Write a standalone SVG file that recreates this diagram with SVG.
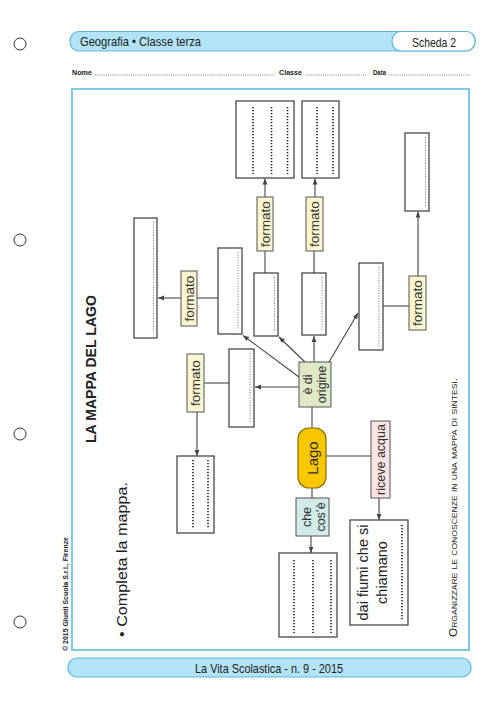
<svg xmlns="http://www.w3.org/2000/svg" width="500" height="708" viewBox="0 0 500 708">
<style>
.t{font-family:"Liberation Sans",Arial,sans-serif;fill:#222}
.box{fill:#fff;stroke:#3a3a3a;stroke-width:1.2}
.fmt{fill:#fbf6d0;stroke:#555;stroke-width:1}
.conn{stroke:#454545;stroke-width:1.1;fill:none}
.arr{stroke:#454545;stroke-width:1.1;fill:none;marker-end:url(#ah)}
.dB{stroke:#1a1a1a;stroke-width:1.6;stroke-dasharray:1.2 1.8;fill:none}
.dL{stroke:#777;stroke-width:1;stroke-dasharray:1 1.6;fill:none}
.lb{font-family:"Liberation Sans",Arial,sans-serif;fill:#333;text-anchor:middle}
.hole{fill:#fff;stroke:#333;stroke-width:1}
.band{fill:#b3e3f7;stroke:#5cb7db;stroke-width:1.2}
</style>
<defs>
<marker id="ah" viewBox="0 0 10 10" refX="10" refY="5" markerWidth="6" markerHeight="6" markerUnits="userSpaceOnUse" orient="auto">
<path d="M0,1 L10,5 L0,9 z" fill="#454545"/>
</marker>
</defs>
<rect width="500" height="708" fill="#fff"/>

<!-- page furniture -->
<g id="holes">
<circle class="hole" cx="20" cy="44" r="6"/>
<circle class="hole" cx="20" cy="240" r="6"/>
<circle class="hole" cx="20" cy="434" r="6"/>
<circle class="hole" cx="20" cy="622" r="6"/>
</g>
<g id="header">
<rect class="band" x="70" y="31.5" width="405" height="19.5" rx="9"/>
<rect x="392" y="31.5" width="83" height="19.5" rx="9" fill="#fff" stroke="#5cb7db" stroke-width="1.2"/>
<text class="t" x="80" y="46" font-size="13" textLength="121" lengthAdjust="spacingAndGlyphs" fill="#1a1a1a">Geografia • Classe terza</text>
<text class="t" x="412" y="46.5" font-size="13" textLength="44" lengthAdjust="spacingAndGlyphs" fill="#1a1a1a">Scheda 2</text>
</g>
<g id="nameline">
<text class="t" x="72" y="75" font-size="7" font-weight="bold" textLength="20" lengthAdjust="spacingAndGlyphs">Nome</text>
<line x1="95" y1="75" x2="275" y2="75" stroke="#333" stroke-width="0.8" stroke-dasharray="0.7 1.2"/>
<text class="t" x="279" y="75" font-size="7" font-weight="bold" textLength="23" lengthAdjust="spacingAndGlyphs">Classe</text>
<line x1="306" y1="75" x2="366" y2="75" stroke="#333" stroke-width="0.8" stroke-dasharray="0.7 1.2"/>
<text class="t" x="373" y="75" font-size="7" font-weight="bold" textLength="13" lengthAdjust="spacingAndGlyphs">Data</text>
<line x1="389" y1="75" x2="470" y2="75" stroke="#333" stroke-width="0.8" stroke-dasharray="0.7 1.2"/>
</g>
<rect id="frame" x="72" y="89" width="397" height="561" fill="none" stroke="#80cbe3" stroke-width="2"/>
<g id="footer">
<rect class="band" x="68" y="658" width="403" height="19" rx="9"/>
<text class="t" x="269" y="673" font-size="13" text-anchor="middle" textLength="148" lengthAdjust="spacingAndGlyphs" fill="#1a1a1a">La Vita Scolastica - n. 9 - 2015</text>
</g>
<text class="t" transform="translate(67.5,651) rotate(-90)" font-size="6.5" font-weight="bold" textLength="114" lengthAdjust="spacingAndGlyphs">© 2015 Giunti Scuola S.r.l., Firenze</text>

<!-- titles -->
<text id="title" class="t" transform="translate(96,443) rotate(-90)" font-size="14.5" font-weight="bold" textLength="148" lengthAdjust="spacingAndGlyphs" fill="#111">LA MAPPA DEL LAGO</text>
<text id="instruction" class="t" transform="translate(127,637) rotate(-90)" font-size="15.5" textLength="155" lengthAdjust="spacingAndGlyphs" fill="#111">• Completa la mappa.</text>
<text id="subtitle" class="t" transform="translate(457,637) rotate(-90)" font-size="11" font-variant="small-caps" textLength="259" lengthAdjust="spacingAndGlyphs" fill="#111">Organizzare le conoscenze in una mappa di sintesi.</text>

<!-- connectors -->
<g id="connectors">
<line class="conn" x1="312" y1="428" x2="312" y2="407"/>
<line class="conn" x1="326" y1="456" x2="371" y2="456"/>
<line class="conn" x1="312" y1="488" x2="312" y2="498"/>
<line class="arr" x1="311" y1="536" x2="311" y2="553"/>
<line class="arr" x1="379" y1="498" x2="379" y2="520"/>
<line class="arr" x1="299" y1="387" x2="255" y2="387"/>
<line class="arr" x1="299" y1="377" x2="243" y2="335.5"/>
<line class="arr" x1="305" y1="362" x2="279" y2="337"/>
<line class="arr" x1="314" y1="362" x2="314" y2="336"/>
<line class="arr" x1="329" y1="362" x2="358" y2="313"/>
<line class="conn" x1="229" y1="383" x2="204" y2="383"/>
<line class="arr" x1="197" y1="412" x2="197" y2="456"/>
<line class="conn" x1="218" y1="298" x2="197" y2="298"/>
<line class="arr" x1="181" y1="298" x2="158" y2="298"/>
<line class="conn" x1="265" y1="273" x2="265" y2="251"/>
<line class="arr" x1="265" y1="197" x2="265" y2="178.5"/>
<line class="conn" x1="314" y1="273" x2="314" y2="251"/>
<line class="arr" x1="315" y1="197" x2="315" y2="178.5"/>
<line class="conn" x1="383" y1="306" x2="409" y2="306"/>
<line class="arr" x1="418" y1="276" x2="418" y2="211.5"/>
</g>

<!-- central nodes -->
<g id="lago">
<rect x="298" y="428" width="28" height="60" rx="11" fill="#f9c700" stroke="#8a6d00" stroke-width="1.2"/>
<text class="lb" transform="translate(312,458) rotate(-90)" y="5.5" font-size="15" fill="#111">Lago</text>
</g>
<g id="origine">
<rect x="299" y="362" width="32" height="45" fill="#dfe9c6" stroke="#555" stroke-width="1"/>
<text class="lb" transform="translate(315,384.5) rotate(-90)" font-size="12.5" fill="#333"><tspan x="0" y="-3">è di</tspan><tspan x="0" y="10.5">origine</tspan></text>
</g>
<g id="riceve">
<rect x="371" y="421" width="19" height="77" fill="#fce4e4" stroke="#555" stroke-width="1"/>
<text class="lb" transform="translate(380.5,459.5) rotate(-90)" y="4.3" font-size="12.5">riceve acqua</text>
</g>
<g id="checose">
<rect x="296" y="498" width="33" height="38" fill="#d1ebe8" stroke="#555" stroke-width="1"/>
<text class="lb" transform="translate(312.5,517) rotate(-90)" font-size="12.5" fill="#3c5a5a"><tspan x="0" y="-2">che</tspan><tspan x="0" y="12">cos’è</tspan></text>
</g>

<!-- answer boxes -->
<g id="box-cosa">
<rect class="box" x="279" y="553" width="58" height="84"/>
<line class="dB" x1="294" y1="560" x2="294" y2="633"/>
<line class="dB" x1="313" y1="560" x2="313" y2="633"/>
<line class="dB" x1="331" y1="560" x2="331" y2="633"/>
</g>
<g id="box-fiumi">
<rect class="box" x="350" y="520" width="58" height="105"/>
<text class="t" transform="translate(379,572.5) rotate(-90)" text-anchor="middle" font-size="14.5" fill="#111"><tspan x="0" y="-11">dai fiumi che si</tspan><tspan x="0" y="7.5">chiamano</tspan></text>
<line class="dB" x1="402" y1="525" x2="402" y2="620"/>
</g>
<g id="box-b1">
<rect class="box" x="229" y="349" width="25" height="78"/>
<line class="dL" x1="250" y1="353" x2="250" y2="423"/>
</g>
<g id="fmt-b1">
<rect class="fmt" x="187" y="354" width="17" height="58"/>
<text class="lb" transform="translate(195.5,383) rotate(-90)" dy="0.35em" font-size="13.5">formato</text>
</g>
<g id="box-b1-out">
<rect class="box" x="177" y="456" width="37" height="77"/>
<line class="dB" x1="193" y1="460" x2="193" y2="529"/>
<line class="dB" x1="208" y1="460" x2="208" y2="529"/>
</g>
<g id="box-b2">
<rect class="box" x="218" y="248" width="24" height="86"/>
<line class="dL" x1="238" y1="252" x2="238" y2="330"/>
</g>
<g id="fmt-b2">
<rect class="fmt" x="181" y="271" width="16" height="55"/>
<text class="lb" transform="translate(189,298.5) rotate(-90)" dy="0.35em" font-size="13.5">formato</text>
</g>
<g id="box-b2-out">
<rect class="box" x="134" y="218" width="23" height="120"/>
<line class="dL" x1="153.5" y1="222" x2="153.5" y2="334"/>
</g>
<g id="box-b3">
<rect class="box" x="254" y="273" width="24" height="63"/>
<line class="dL" x1="274.5" y1="277" x2="274.5" y2="332"/>
</g>
<g id="fmt-b3">
<rect class="fmt" x="257" y="197" width="16" height="54"/>
<text class="lb" transform="translate(265,224) rotate(-90)" dy="0.35em" font-size="13.5">formato</text>
</g>
<g id="box-b3-out">
<rect class="box" x="236" y="101" width="58" height="77"/>
<line class="dB" x1="253" y1="107" x2="253" y2="174"/>
<line class="dB" x1="271.5" y1="107" x2="271.5" y2="174"/>
<line class="dB" x1="287.5" y1="107" x2="287.5" y2="174"/>
</g>
<g id="box-b4">
<rect class="box" x="302" y="273" width="24" height="62"/>
<line class="dL" x1="322" y1="277" x2="322" y2="331"/>
</g>
<g id="fmt-b4">
<rect class="fmt" x="306" y="197" width="17" height="54"/>
<text class="lb" transform="translate(314.5,224) rotate(-90)" dy="0.35em" font-size="13.5">formato</text>
</g>
<g id="box-b4-out">
<rect class="box" x="302" y="101" width="37" height="77"/>
<line class="dB" x1="317" y1="107" x2="317" y2="174"/>
<line class="dB" x1="333" y1="107" x2="333" y2="174"/>
</g>
<g id="box-b5">
<rect class="box" x="359" y="263" width="24" height="87"/>
<line class="dL" x1="379" y1="267" x2="379" y2="346"/>
</g>
<g id="fmt-b5">
<rect class="fmt" x="409" y="276" width="17" height="54"/>
<text class="lb" transform="translate(417.5,303) rotate(-90)" dy="0.35em" font-size="13.5">formato</text>
</g>
<g id="box-b5-out">
<rect class="box" x="405" y="133" width="24" height="78"/>
<line class="dL" x1="425.5" y1="137" x2="425.5" y2="207"/>
</g>
</svg>
